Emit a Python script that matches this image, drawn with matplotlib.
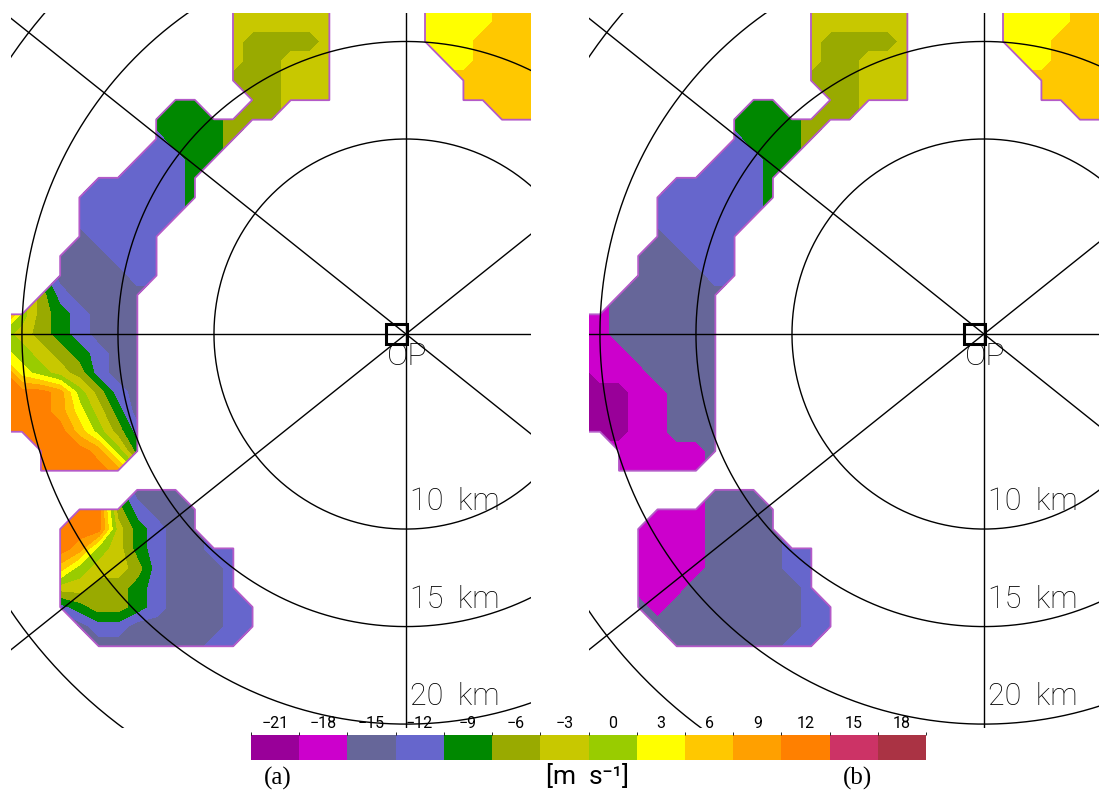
import numpy as np
import matplotlib.pyplot as plt
from matplotlib.colors import ListedColormap, BoundaryNorm
from matplotlib.patches import Rectangle

# velocity classes of the colour scale [m s-1]
levels = np.arange(-21, 22, 3)
colors = ['#990099', '#cc00cc', '#666699', '#6666cc', '#008800', '#99aa00',
          '#c8c800', '#99cc00', '#ffff00', '#ffc800', '#ffa000', '#ff8000',
          '#cc3366', '#aa3344']
tick_labels = ['\u221221', '\u221218', '\u221215', '\u221212', '\u22129', '\u22126',
               '\u22123', '0', '3', '6', '9', '12', '15', '18']

rings = [10, 15, 20, 25]            # range rings [km]
ring_labels = ['10  km', '15  km', '20  km']
beam_angles = [0, 90, 38.2, -38.2]  # lines through OP [deg]

# 1 km grid around OP: x (east) and y (north)
grid_x = np.arange(-21, 8)
grid_y = np.arange(17, -22, -1)

# velocity class at each grid point, A = -21..-18 ... N = 18..21, '.' = no echo
rows_top = [
    '............GGGGGG....IIIIJJJ',   # y = 17
    '............GGGGGG....IIIIJJJ',
    '............GFFFFG....IIIJJJJ',
    '............GFFGGG.....IIJJJJ',
    '............FFFGGG......JJJJJ',
    '.........EE..FFGGG......JJJJJ',
    '........EEEEFFF...........JJK',
    '........DEEEF',
    '.......DDDEE',
    '.....DDDDDE',
    '....DDDDDDE',
    '....DDDDDD',
    '....CDDDD',
    '...CCCDDD',
    '...CCCCDD',                       # y = 3
]
rows_a = [
    '..FDCCCC',                        # y = 2
    'LHFEDCCC',
    'HGFEDCCC',
    'IHGFEDCC',
    'LIHGFDCC',
    'LLLKHFDC',
    'LLLKIGEC',
    'LLLLJHFD',
    '..LLLKHE',
    '..LLLLK',
    '.......CCC',                      # y = -8
    '....LLFDCCC',
    '...LLLGEDCC',
    '...LKHGEDCCDD',
    '...JHGGFDCCCD',
    '...GGFFEDCCCD',
    '...DEFFEDCCCDD',
    '....CDDCCCCCDD',
    '.....CCCCCCDD',                   # y = -16
]
rows_b = [
    '..CCCCCC',                        # y = 2
    'BBCCCCCC',
    'BBCCCCCC',
    'BBBCCCCC',
    'ABBBCCCC',
    'AAABBCCC',
    'AAABBCCC',
    'AAABBCCC',
    '..BBBBBC',
    '..BBBBB',
    '.......CCC',                      # y = -8
    '....BBBCCCC',
    '...BBBBCCCC',
    '...BBBBCCCCDD',
    '...BBBBCCCCDD',
    '...BBBCCCCCCD',
    '...CBCCCCCCCDD',
    '....CCCCCCCCDD',
    '.....CCCCCCDD',                   # y = -16
]


def to_grid(rows):
    z = np.full((len(grid_y), len(grid_x)), np.nan)
    for i, row in enumerate(rows):
        for j, ch in enumerate(row):
            if ch != '.':
                z[i, j] = levels[ord(ch) - 65] + 1.5
    return np.ma.masked_invalid(z)


W, H = 1099, 794
fig = plt.figure(figsize=(W / 100, H / 100), dpi=100)
cmap = ListedColormap(colors)
norm = BoundaryNorm(levels, cmap.N)
font = 'Roboto'

t = np.linspace(0, 2 * np.pi, 500)
for left, rows in [(11, rows_top + rows_a), (589, rows_top + rows_b)]:
    ax = fig.add_axes([left / W, 66 / H, 520 / W, 715 / H])
    z = to_grid(rows)
    ax.contourf(grid_x, grid_y, z, levels=levels, cmap=cmap, norm=norm)
    ax.contour(grid_x, grid_y, (~z.mask).astype(float), levels=[0.99],
               colors='#b45ac8', linewidths=1.3)
    for r in rings:
        ax.plot(r * np.cos(t), r * np.sin(t), color='k', lw=1.0)
    for a in beam_angles:
        c, s = np.cos(np.radians(a)), np.sin(np.radians(a))
        ax.plot([-40 * c, 40 * c], [-40 * s, 40 * s], color='k', lw=1.0)
    for r, lab in zip(rings, ring_labels):
        ax.text(0.2, -(r - 0.97), lab, fontsize=22, family=font,
                fontweight='light', color='k', va='baseline', ha='left')
    ax.add_patch(Rectangle((-1.04, -0.52), 1.08, 1.04, fill=False,
                           ec='k', lw=2.2, zorder=5))
    ax.text(-1.02, -0.42, 'OP', fontsize=23, family=font, fontweight='light',
            color='k', va='top', ha='left')
    ax.set_xlim(-20.57, 6.51)
    ax.set_ylim(-20.2, 16.46)
    ax.set_axis_off()

cax = fig.add_axes([251 / W, 34 / H, 675 / W, 25 / H])
sm = plt.cm.ScalarMappable(norm=norm, cmap=cmap)
cb = fig.colorbar(sm, cax=cax, orientation='horizontal',
                  ticks=levels[:-1] + 1.5)
cb.set_ticklabels(tick_labels)
cb.outline.set_visible(False)
cax.xaxis.set_ticks_position('top')
cax.tick_params(length=0, pad=3, labelsize=11.5)
for lab in cax.get_xticklabels():
    lab.set_family(font)

fig.text(278 / W, 1 - 778 / H, '(a)', fontsize=18, family='Liberation Serif',
         ha='center', va='center')
fig.text(858 / W, 1 - 778 / H, '(b)', fontsize=18, family='Liberation Serif',
         ha='center', va='center')
fig.text(588 / W, 1 - 777 / H, '[m  s\u207b\u00b9]', fontsize=19, family=font,
         ha='center', va='center')

fig.savefig('out.png', dpi=100)
